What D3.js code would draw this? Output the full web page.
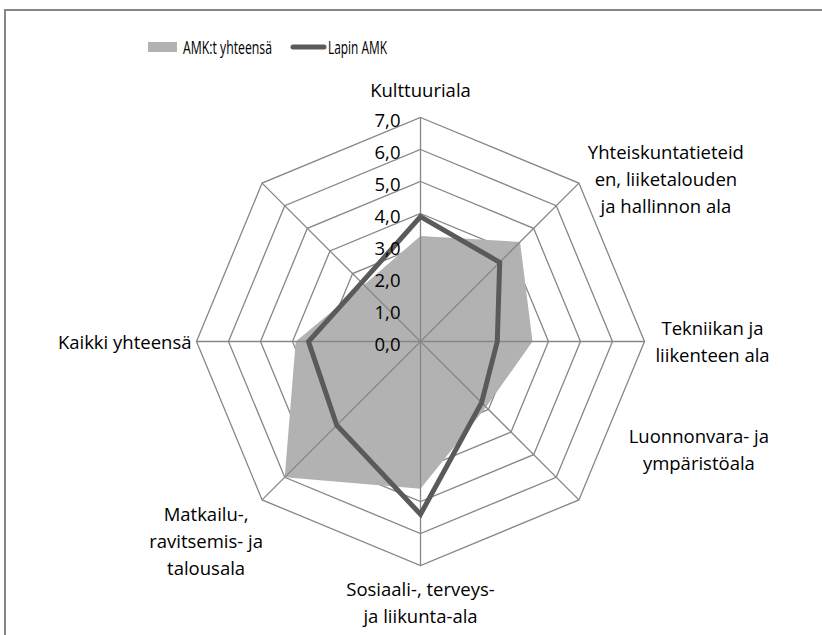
<!DOCTYPE html>
<html>
<head>
<meta charset="utf-8">
<script src="https://cdn.jsdelivr.net/npm/d3@7"></script>
<style>
  body { margin: 0; background: #fff; }
  text { fill: #000; }
</style>
</head>
<body>
<div id="chart"></div>
<script>
// Categories, clockwise from the top (last spoke has no label)
const categories = [
  "Kulttuuriala",
  "Yhteiskuntatieteiden, liiketalouden ja hallinnon ala",
  "Tekniikan ja liikenteen ala",
  "Luonnonvara- ja ympäristöala",
  "Sosiaali-, terveys- ja liikunta-ala",
  "Matkailu-, ravitsemis- ja talousala",
  "Kaikki yhteensä",
  ""
];
// How Excel wrapped each label
const labelLines = [
  ["Kulttuuriala"],
  ["Yhteiskuntatieteid", "en, liiketalouden", "ja hallinnon ala"],
  ["Tekniikan ja", "liikenteen ala"],
  ["Luonnonvara- ja", "ympäristöala"],
  ["Sosiaali-, terveys-", "ja liikunta-ala"],
  ["Matkailu-,", "ravitsemis- ja", "talousala"],
  ["Kaikki yhteensä"],
  []
];
const seriesNames = ["AMK:t yhteensä", "Lapin AMK"];
const amkValues = [3.3, 4.4, 3.5, 2.9, 4.6, 6.0, 3.9, 2.5];
const lapinValues = [3.9, 3.5, 2.4, 2.7, 5.4, 3.7, 3.5, 2.6];
const ticks = [0, 1, 2, 3, 4, 5, 6, 7];

const width = 822, height = 635;
const cx = 420.5, cy = 341.5, radius = 224;
const labelFont = "'Open Sans', sans-serif";
const labelSize = "18.5px";

const svg = d3.select("#chart").append("svg")
  .attr("width", width)
  .attr("height", height);

// outer chart border (runs off the right and bottom)
svg.append("rect")
  .attr("x", 5).attr("y", 10)
  .attr("width", 840).attr("height", 660)
  .attr("fill", "none")
  .attr("stroke", "#868686")
  .attr("stroke-width", 2);

const rScale = d3.scaleLinear().domain([0, 7]).range([0, radius]);
const angle = i => i * 2 * Math.PI / categories.length;
const pt = (i, v) => [cx + rScale(v) * Math.sin(angle(i)), cy - rScale(v) * Math.cos(angle(i))];

const g = svg.append("g");
const gridColor = "#868686";

// octagon rings
g.selectAll("path.ring")
  .data(ticks.slice(1))
  .enter()
  .append("path")
  .attr("class", "ring")
  .attr("d", t => d3.line()(categories.map((c, i) => pt(i, t))) + "Z")
  .attr("fill", "none")
  .attr("stroke", gridColor)
  .attr("stroke-width", 1.3);

// filled series
g.append("path")
  .attr("d", d3.line()(amkValues.map((v, i) => pt(i, v))) + "Z")
  .attr("fill", "#b2b2b2");

// spokes
g.selectAll("line.spoke")
  .data(categories)
  .enter()
  .append("line")
  .attr("x1", cx).attr("y1", cy)
  .attr("x2", (d, i) => pt(i, 7)[0])
  .attr("y2", (d, i) => pt(i, 7)[1])
  .attr("stroke", gridColor)
  .attr("stroke-width", 1.3);

// line series
g.append("path")
  .attr("d", d3.line()(lapinValues.map((v, i) => pt(i, v))) + "Z")
  .attr("fill", "none")
  .attr("stroke", "#5a5a5a")
  .attr("stroke-width", 5)
  .attr("stroke-linejoin", "miter");

// value ticks along the top spoke
g.selectAll("text.tick")
  .data(ticks)
  .enter()
  .append("text")
  .attr("class", "tick")
  .attr("x", cx - 20)
  .attr("y", t => cy - rScale(t) + 9)
  .attr("text-anchor", "end")
  .style("font-family", labelFont)
  .style("font-size", labelSize)
  .text(t => d3.format(".1f")(t).replace(".", ","));

// category label placement relative to each outer vertex
const labelLayout = [
  { dx: 0, dy: -27, anchor: "middle" },
  { dx: 87, dy: -30, anchor: "middle" },
  { dx: 68, dy: -13, anchor: "middle" },
  { dx: 120, dy: -63, anchor: "middle" },
  { dx: 0, dy: 24, anchor: "middle" },
  { dx: -56, dy: 15, anchor: "middle" },
  { dx: -5, dy: 1, anchor: "end" },
  { dx: 0, dy: 0, anchor: "middle" }
];
const lineGap = 27;

categories.forEach((c, i) => {
  const p = pt(i, 7);
  const lay = labelLayout[i];
  const t = g.append("text")
    .attr("text-anchor", lay.anchor)
    .style("font-family", labelFont)
    .style("font-size", labelSize);
  labelLines[i].forEach((ln, k) => {
    t.append("tspan")
      .attr("x", p[0] + lay.dx)
      .attr("y", p[1] + lay.dy + k * lineGap + 6)
      .text(ln);
  });
});

// legend (Excel squeezes these labels, so fix their widths)
const legend = svg.append("g").attr("transform", "translate(0, 47)");
legend.append("rect")
  .attr("x", 148).attr("y", -5)
  .attr("width", 29).attr("height", 10)
  .attr("fill", "#b2b2b2");
legend.append("text")
  .attr("x", 183).attr("y", 6.5)
  .attr("textLength", 89)
  .attr("lengthAdjust", "spacingAndGlyphs")
  .style("font-family", labelFont)
  .style("font-size", "18px")
  .text(seriesNames[0]);
legend.append("line")
  .attr("x1", 293).attr("x2", 324)
  .attr("y1", 0).attr("y2", 0)
  .attr("stroke", "#5a5a5a")
  .attr("stroke-width", 5)
  .attr("stroke-linecap", "round");
legend.append("text")
  .attr("x", 328).attr("y", 6.5)
  .attr("textLength", 59)
  .attr("lengthAdjust", "spacingAndGlyphs")
  .style("font-family", labelFont)
  .style("font-size", "18px")
  .text(seriesNames[1]);
</script>
</body>
</html>
